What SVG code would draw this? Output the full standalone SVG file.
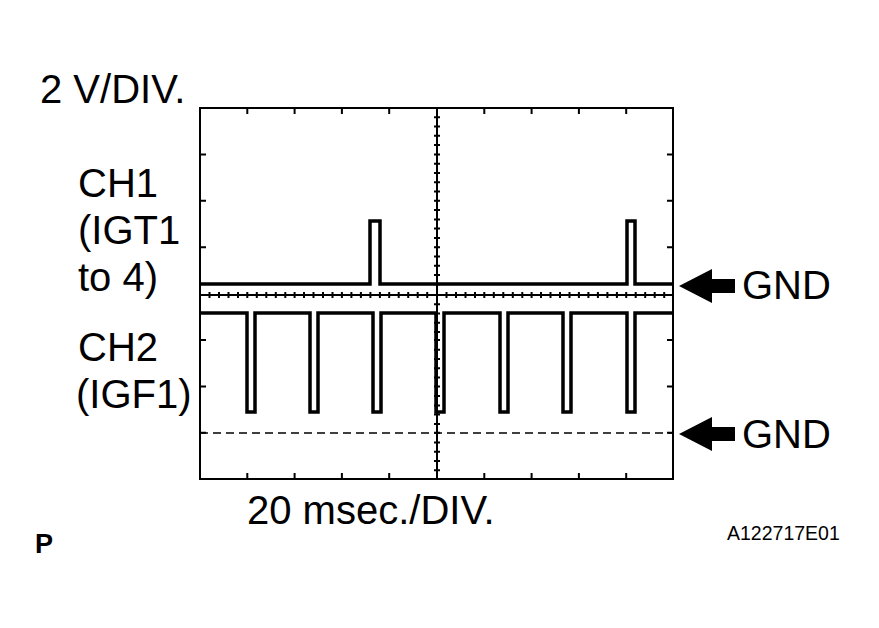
<svg xmlns="http://www.w3.org/2000/svg" width="879" height="628" viewBox="0 0 879 628">
<style>
text{font-family:"Liberation Sans",Arial,sans-serif;fill:#000}
.l{font-size:40px}
.g{fill:none;stroke:#000;stroke-width:2}
.t{fill:none;stroke:#000;stroke-width:3.5;stroke-linejoin:miter}
</style>
<defs>
<path id="arr" d="M0 0 L33 -17 L33 -7 L56 -7 L56 7 L33 7 L33 17 Z" fill="#000"/>
</defs>
<rect width="879" height="628" fill="#fff"/>
<g id="grid">
<rect x="200" y="108" width="473" height="371" class="g"/>
<path class="g" d="M437 108V479M200 295H673"/>
<path class="g" d="M247.3 108v6M294.6 108v6M341.9 108v6M389.2 108v6M484.3 108v6M531.6 108v6M578.9 108v6M626.2 108v6
M247.3 479v-6M294.6 479v-6M341.9 479v-6M389.2 479v-6M484.3 479v-6M531.6 479v-6M578.9 479v-6M626.2 479v-6
M200 154.4h6M200 200.8h6M200 247.2h6M200 340h6M200 386.4h6M200 432.8h6
M673 154.4h-6M673 200.8h-6M673 247.2h-6M673 340h-6M673 386.4h-6M673 432.8h-6"/>
<path class="g" stroke-width="1.5" d="M209.5 292v6M219 292v6M228.5 292v6M238 292v6M247.3 292v6M256.8 292v6M266.3 292v6M275.8 292v6M285.3 292v6M294.6 292v6M304 292v6M313.5 292v6M323 292v6M332.5 292v6M341.9 292v6M351.4 292v6M360.9 292v6M370.4 292v6M379.9 292v6M389.2 292v6M398.7 292v6M408.2 292v6M417.7 292v6M427.2 292v6M446.5 292v6M456 292v6M465.5 292v6M475 292v6M484.3 292v6M493.8 292v6M503.3 292v6M512.8 292v6M522.3 292v6M531.6 292v6M541 292v6M550.5 292v6M560 292v6M569.5 292v6M578.9 292v6M588.4 292v6M597.9 292v6M607.4 292v6M616.9 292v6M626.2 292v6M635.7 292v6M645.2 292v6M654.7 292v6M664.2 292v6"/>
<path class="g" stroke-width="1.5" d="M434 117.3h6M434 126.6h6M434 135.8h6M434 145.1h6M434 154.4h6M434 163.7h6M434 173h6M434 182.2h6M434 191.5h6M434 200.8h6M434 210.1h6M434 219.4h6M434 228.6h6M434 237.9h6M434 247.2h6M434 256.5h6M434 265.8h6M434 275h6M434 284.3h6M434 304.3h6M434 313.6h6M434 322.8h6M434 332.1h6M434 340h6M434 349.7h6M434 359h6M434 368.2h6M434 377.5h6M434 386.4h6M434 396.1h6M434 405.4h6M434 414.6h6M434 423.9h6M434 432.8h6M434 442.5h6M434 451.8h6M434 461h6M434 470.3h6"/>
<path d="M200 433H673" fill="none" stroke="#000" stroke-width="1.5" stroke-dasharray="8 5"/>
</g>
<g id="traces">
<path class="t" d="M200 284H370V221H380V284H627V221H635V284H673"/>
<path class="t" d="M200 313H247V412H255V313H310V412H318V313H373V412H381V313H436V412H444V313H500V412H508V313H563V412H571V313H627V412H635V313H673"/>
</g>
<g id="arrows">
<use href="#arr" x="679" y="286"/>
<use href="#arr" x="679" y="434"/>
</g>
<g id="labels">
<text class="l" x="40" y="103">2 V/DIV.</text>
<text class="l" x="78" y="197">CH1</text>
<text class="l" x="78" y="244">(IGT1</text>
<text class="l" x="78" y="291">to 4)</text>
<text class="l" x="78" y="361">CH2</text>
<text class="l" x="76" y="408">(IGF1)</text>
<text class="l" x="742" y="299">GND</text>
<text class="l" x="742" y="448">GND</text>
<text class="l" x="247" y="524">20 msec./DIV.</text>
<text x="35" y="553" font-size="27" font-weight="bold">P</text>
<text x="727" y="540" font-size="19.5">A122717E01</text>
</g>
</svg>
